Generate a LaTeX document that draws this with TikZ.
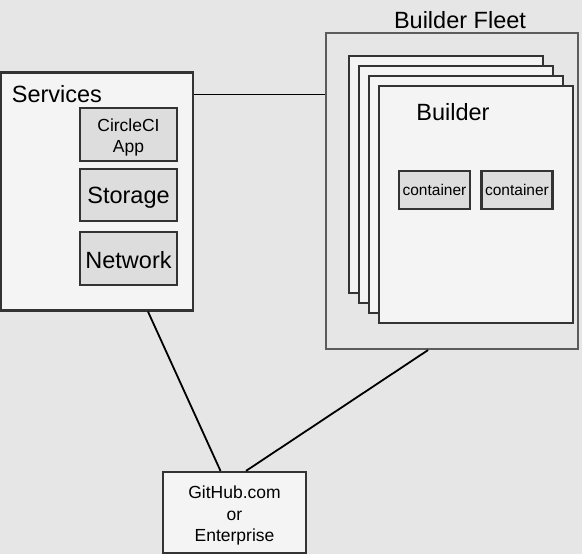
\documentclass[tikz,border=0pt]{standalone}
\usepackage{fontspec}
\setmainfont{Liberation Sans}
\usetikzlibrary{calc}

\definecolor{paper}{HTML}{E6E6E6}
\definecolor{boxfill}{HTML}{F4F4F4}
\definecolor{partfill}{HTML}{DDDDDD}
\definecolor{edgeline}{HTML}{333333}

\tikzset{
  box/.style = {draw=edgeline, line width=2.2pt, fill=boxfill, inner sep=0pt},
  part/.style = {box, fill=partfill, minimum width=97pt},
  big/.style = {font=\fontsize{23.5}{26}\selectfont},
  small/.style = {font=\fontsize{17.5}{21.5}\selectfont},
  tiny/.style = {font=\fontsize{15.5}{17}\selectfont}
}

\begin{document}
\begin{tikzpicture}[x=1pt, y=-1pt, line width=1.8pt]
   \fill[paper] (0,0) rectangle (582,554);
   \useasboundingbox (0,0) rectangle (582,554);

   % services side
   \node[box, minimum width=192pt, minimum height=238pt] (srv) at (97,191.5) {};
   \node[big, anchor=west, inner sep=0pt] (srvlabel) at (11,94) {Services};
   \node[part, minimum height=53pt] (app) at (128.5,134.5) {};
   \node[part, minimum height=52pt] (store) at (128.5,195) {};
   \node[part, minimum height=53pt] (net) at (128.5,258.5) {};
   \node[small, align=center, yshift=-3pt] (applabel) at (app) {CircleCI\\App};
   \node[big, yshift=-3pt] (storelabel) at (store) {Storage};
   \node[big, yshift=-2pt] (netlabel) at (net) {Network};

   % builder fleet
   \node[box, fill=paper, draw=edgeline!80, minimum width=252pt, minimum height=316pt] (fleet) at (452,191) {};
   \node[big] (fleetlabel) at (460,20) {Builder Fleet};
   \foreach \i/\cx/\cy in {1/446/174.5, 2/456/184.5, 3/466/194.5, 4/476/204.5}
      \node[box, minimum width=194pt, minimum height=237pt] (b\i) at (\cx,\cy) {};
   \node[big] (blabel) at (453,112) {Builder};
   \node[part, tiny, minimum width=71pt, minimum height=38pt] (c1) at (434.5,190) {container};
   \node[part, tiny, minimum width=71pt, minimum height=38pt] (c2) at (517,190) {container};

   % source control
   \node[box, minimum width=143pt, minimum height=81pt] (gh) at (234.5,512.5) {};
   \node[small, align=center, yshift=-3pt] (ghlabel) at (gh) {GitHub.com\\or\\Enterprise};

   \draw ([yshift=-23pt]srv.north east) -- ([yshift=-23pt]srv.north east -| fleet.west);
   \draw ([xshift=51pt]srv.south) -- ([xshift=-14pt]gh.north);
   \draw ([xshift=-24pt]fleet.south) -- ([xshift=11.5pt]gh.north);
\end{tikzpicture}
\end{document}
